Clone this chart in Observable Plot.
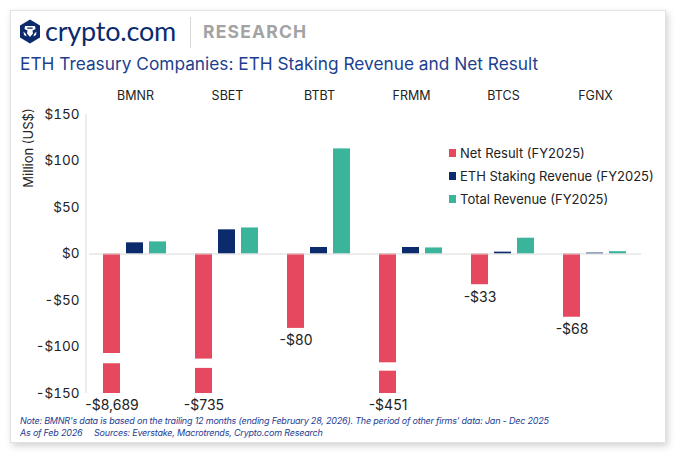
<!DOCTYPE html>
<html>
<head>
<meta charset="utf-8">
<script src="https://cdn.jsdelivr.net/npm/d3@7"></script>
<script src="https://cdn.jsdelivr.net/npm/@observablehq/plot@0.6"></script>
<style>
  html, body { margin: 0; padding: 0; background: #ffffff; width: 680px; height: 458px; overflow: hidden; font-family: Inter, "Noto Sans", sans-serif; }
  .card { position: absolute; left: 10px; top: 10px; width: 654px; height: 431px; background: #fff; border: 1px solid #e2e2e2; box-shadow: 2px 3px 7px rgba(0,0,0,0.18); }
  .abs { position: absolute; white-space: nowrap; }
  #chart { position: absolute; left: 0; top: 85px; }
  .legend-row { display: flex; align-items: center; height: 22.7px; font-size: 13px; color: #222; }
  .sw { width: 7px; height: 8px; margin-right: 4px; }
  .note { font-style: italic; font-size: 9px; letter-spacing: -0.2px; color: #1d3d93; line-height: 12px; }
</style>
</head>
<body>
<div class="card"></div>
<svg class="abs" style="left:20px;top:19px" width="20" height="25" viewBox="0 0 20 24">
  <path d="M10 0 L20 6 L20 18 L10 24 L0 18 L0 6 Z" fill="#0b2b6d"/>
  <path d="M5 6.5 L15 6.5 L15.5 9.5 L12.5 11 L13 14 L10 17.5 L7 14 L7.5 11 L4.5 9.5 Z" fill="#fff"/>
  <path d="M7.2 8 L12.8 8 L12.6 9.3 L7.4 9.3 Z" fill="#0b2b6d"/>
  <path d="M3.5 12 L6 14.5 L6.5 17 L4 15.5 Z M16.5 12 L14 14.5 L13.5 17 L16 15.5 Z" fill="#fff"/>
</svg>
<div class="abs" style="left:45px;top:14px;font-family:Lato, Inter, sans-serif;font-size:27px;color:#0b2b6d;letter-spacing:-0.2px;">crypto.com</div>
<div class="abs" style="left:190px;top:17px;width:1px;height:31px;background:#d6d6d6;"></div>
<div class="abs" style="left:203px;top:21px;font-family:Inter, sans-serif;font-weight:700;font-size:17.5px;color:#a3a3a3;letter-spacing:1.2px;">RESEARCH</div>
<div class="abs" style="left:20px;top:53px;font-family:Inter, Roboto, sans-serif;font-size:17.3px;color:#1d3f8f;">ETH Treasury Companies: ETH Staking Revenue and Net Result</div>
<div class="abs" style="left:28px;top:148px;font-size:13px;color:#222;transform:translate(-50%,-50%) rotate(-90deg);">Million (US$)</div>
<div id="chart"></div>
<div class="abs" id="legend" style="left:449px;top:142px;"></div>
<div class="abs note" style="left:20px;top:415px;">Note: BMNR's data is based on the trailing 12 months (ending February 28, 2026). The period of other firms' data: Jan - Dec 2025<br>As of Feb 2026&nbsp;&nbsp;&nbsp;&nbsp;&nbsp;Sources: Everstake, Macrotrends, Crypto.com Research</div>
<script>
// ---- data ----
const companies = ["BMNR", "SBET", "BTBT", "FRMM", "BTCS", "FGNX"];
const seriesNames = ["Net Result (FY2025)", "ETH Staking Revenue (FY2025)", "Total Revenue (FY2025)"];
const netResult = [-8689, -735, -80, -451, -33, -68];
const stakingRevenue = [12, 26, 7, 7, 2, 1];
const totalRevenue = [13, 28, 113, 6.5, 17, 2.5];
const seriesColors = ["#e6485f", "#0b2b6d", "#3bb49c"];
const yTicks = [-150, -100, -50, 0, 50, 100, 150];
const yDomain = [-150, 150];
// axis-break gaps drawn on bars that exceed the axis (value range of the gap)
const breakCompanies = ["BMNR", "SBET", "FRMM"];
const breakTop = [-107, -113, -117];
const breakBottom = [-118, -123, -126];

// ---- build table ----
const rows = [];
companies.forEach((c, i) => {
  [netResult, stakingRevenue, totalRevenue].forEach((arr, j) => {
    rows.push({company: c, series: seriesNames[j], value: arr[i]});
  });
});
const netRows = rows.filter(d => d.series === seriesNames[0]);
const breaks = breakCompanies.map((c, i) => ({company: c, series: seriesNames[0], top: breakTop[i], bottom: breakBottom[i]}));

const money = v => (v < 0 ? "-$" : "$") + d3.format(",")(Math.abs(v));

const plot = Plot.plot({
  width: 680,
  height: 330,
  marginLeft: 86,
  marginRight: 37,
  marginTop: 29,
  marginBottom: 22,
  style: {fontFamily: "Inter, 'Noto Sans', sans-serif", fontSize: "13px", color: "#222", background: "transparent"},
  fx: {domain: companies, padding: 0, label: null},
  x: {domain: seriesNames, paddingInner: 0.25, paddingOuter: 0.62, axis: null},
  y: {domain: yDomain, clamp: true, label: null},
  color: {domain: seriesNames, range: seriesColors},
  marks: [
    Plot.axisFx({anchor: "top", tickSize: 0, tickPadding: 15, fontSize: 12.5, label: null}),
    Plot.axisY({ticks: yTicks, tickFormat: money, tickSize: 0, tickPadding: 10, fontSize: 13.5, label: null}),
    Plot.barY(rows, {fx: "company", x: "series", y: "value", fill: "series"}),
    Plot.barY(breaks, {fx: "company", x: "series", y1: "top", y2: "bottom", fill: "white", insetLeft: -1, insetRight: -1}),
    Plot.ruleY([0], {stroke: "#dadada", strokeWidth: 1}),
    Plot.text(netRows, {fx: "company", x: "series", y: "value", text: d => money(d.value), lineAnchor: "top", dy: 7, fontSize: 14, fill: "#222"})
  ]
});

// y-axis line along the left edge of the plot area, from the plot's own y scale
const ys = plot.scale("y");
d3.select(plot).append("line")
  .attr("x1", 86).attr("x2", 86)
  .attr("y1", ys.apply(yDomain[1])).attr("y2", ys.apply(yDomain[0]))
  .attr("stroke", "#dadada");

document.getElementById("chart").appendChild(plot);

// legend
const lg = d3.select("#legend");
seriesNames.forEach((s, i) => {
  const r = lg.append("div").attr("class", "legend-row");
  r.append("div").attr("class", "sw").style("background", seriesColors[i]);
  r.append("span").text(s);
});
</script>
</body>
</html>
